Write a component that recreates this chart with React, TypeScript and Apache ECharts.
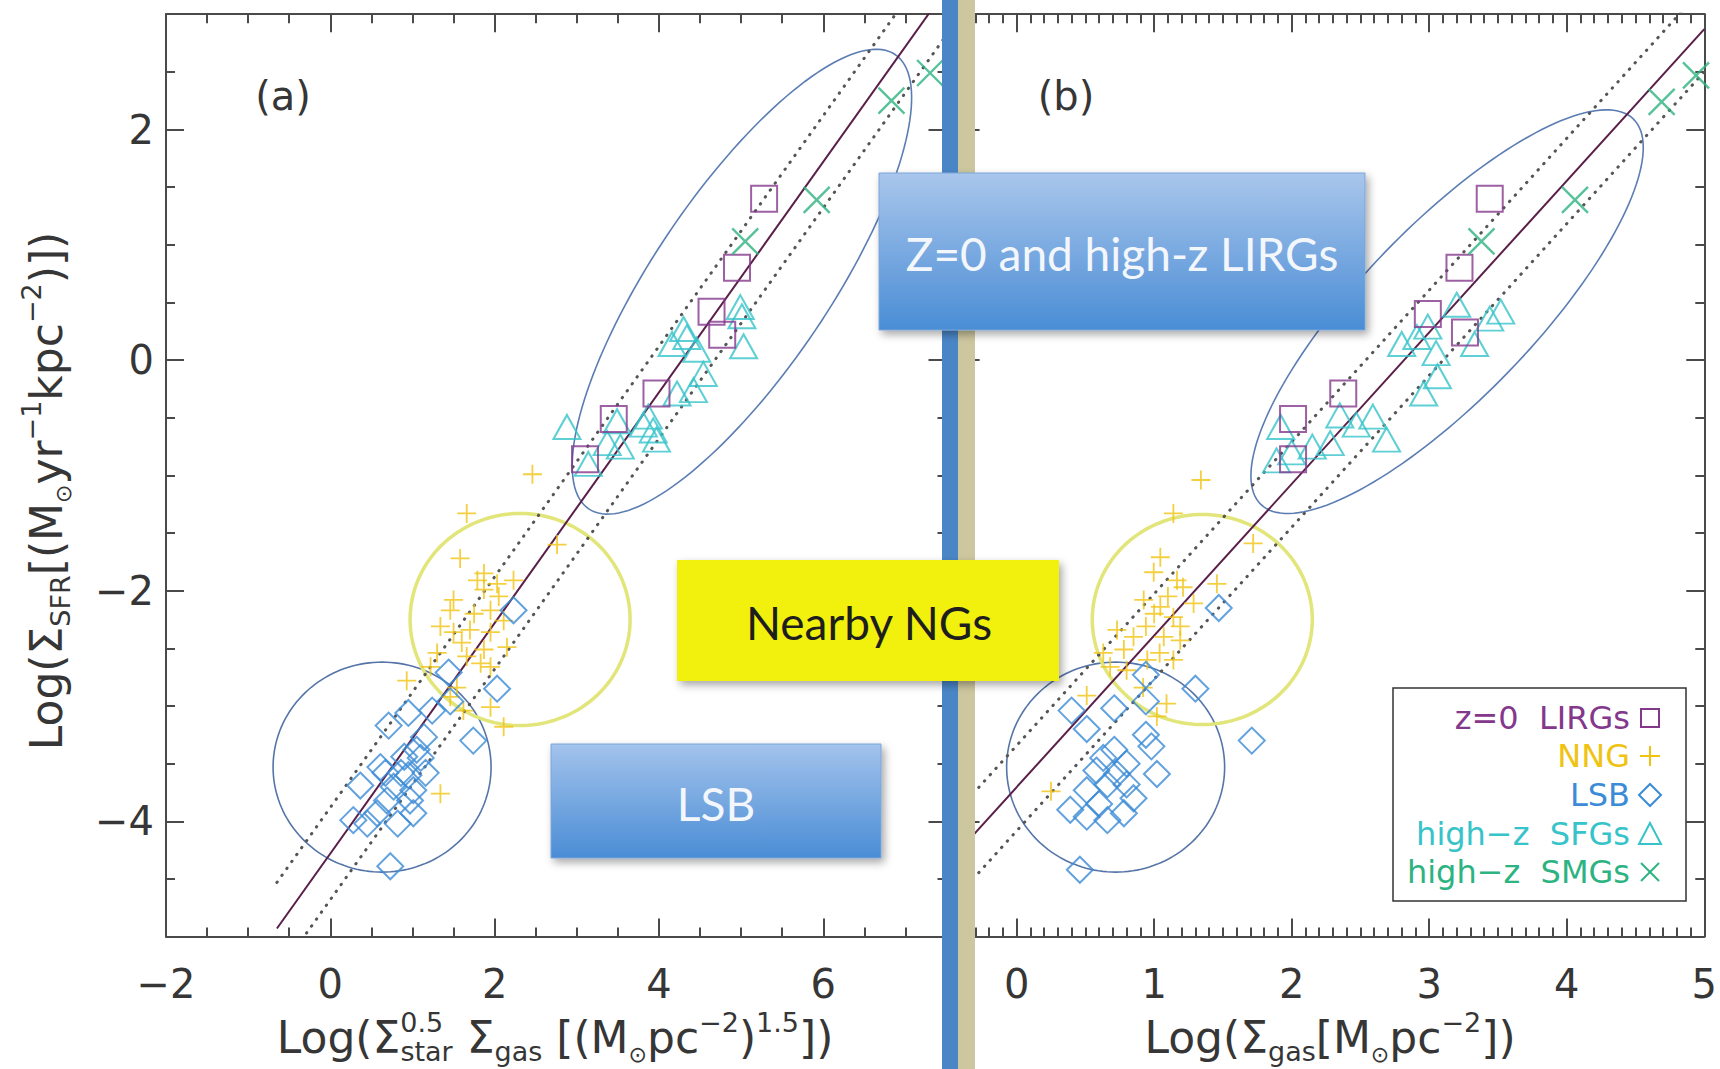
import React, { useEffect, useRef } from "react";
import * as echarts from "echarts";

const W = 1720;
const H = 1069;

// ---------------- DATA ----------------
// Panel (a): x = Log(Σstar^0.5 Σgas), Panel (b): x = Log(Σgas); y = Log(ΣSFR)
const lirgA = [[5.28, 1.4], [4.95, 0.8], [4.64, 0.42], [4.77, 0.22], [3.97, -0.29], [3.45, -0.51], [3.1, -0.86]];
const lirgB = [[3.44, 1.4], [3.22, 0.8], [2.99, 0.4], [3.26, 0.24], [2.375, -0.29], [2.01, -0.51], [2.01, -0.86]];

const smgA = [[5.05, 1.03], [5.92, 1.39], [6.83, 2.25], [7.3, 2.49]];
const smgB = [[3.38, 1.03], [4.06, 1.39], [4.69, 2.24], [4.94, 2.47]];

const sfgA = [
  [2.88, -0.58], [3.14, -0.9], [3.37, -0.72], [3.53, -0.75], [3.49, -0.53], [3.81, -0.56],
  [3.87, -0.49], [3.97, -0.69], [3.93, -0.61], [4.16, 0.14], [4.3, 0.27], [4.46, 0.09],
  [4.54, -0.12], [4.42, -0.26], [4.22, -0.29], [4.99, 0.46], [5.01, 0.38], [5.03, 0.12], [4.34, 0.2],
];
const sfgB = [
  [3.2, 0.48], [3.52, 0.42], [3.44, 0.36], [3.33, 0.14], [2.99, 0.29], [2.91, 0.2],
  [2.8, 0.14], [3.05, 0.06], [3.06, -0.14], [2.96, -0.29], [2.59, -0.49], [2.69, -0.69],
  [2.47, -0.56], [2.35, -0.48], [2.28, -0.72], [2.15, -0.75], [1.92, -0.58], [1.89, -0.87], [2.0, -0.8],
];

const nngA = [
  [2.46, -0.99], [1.66, -1.33], [1.58, -1.72], [2.76, -1.6], [1.87, -1.85], [1.79, -1.91],
  [1.5, -2.08], [1.87, -1.99], [2.03, -1.94], [2.23, -1.91], [1.95, -2.17], [2.11, -2.26],
  [1.46, -2.17], [1.34, -2.31], [1.5, -2.36], [1.7, -2.34], [1.95, -2.36], [2.15, -2.49],
  [1.87, -2.51], [1.66, -2.57], [1.3, -2.54], [1.83, -2.63], [1.95, -2.66], [1.22, -2.66],
  [0.93, -2.78], [1.54, -2.84], [1.46, -2.92], [1.62, -3.04], [1.95, -3.01], [2.11, -3.18],
  [1.34, -3.76], [1.75, -2.2], [1.6, -2.45], [2.05, -2.05],
];
const nngB = [
  [1.34, -1.04], [1.14, -1.33], [1.72, -1.59], [1.045, -1.71], [0.997, -1.84], [1.166, -1.91],
  [1.21, -1.97], [1.456, -1.94], [0.924, -2.08], [1.045, -2.14], [1.287, -2.11], [1.14, -2.23],
  [0.94, -2.31], [1.19, -2.31], [0.73, -2.34], [0.85, -2.4], [1.07, -2.4], [1.19, -2.43],
  [0.63, -2.54], [0.78, -2.51], [1.04, -2.54], [1.14, -2.6], [0.68, -2.66], [0.8, -2.69],
  [0.51, -2.91], [0.92, -2.84], [1.09, -2.98], [1.02, -3.09], [0.25, -3.74], [1.0, -2.2],
  [1.1, -2.05], [0.95, -2.6],
];

const lsbA = [
  [2.23, -2.17], [2.03, -2.85], [1.44, -2.71], [1.46, -2.96], [1.74, -3.3], [1.24, -3.04],
  [0.95, -3.06], [0.71, -3.17], [1.14, -3.27], [1.05, -3.38], [0.9, -3.44], [0.61, -3.53],
  [1.16, -3.58], [0.86, -3.58], [0.77, -3.7], [0.365, -3.69], [1.01, -3.73], [0.97, -3.82],
  [0.69, -3.82], [0.57, -3.93], [0.28, -3.99], [0.45, -4.02], [0.82, -4.02], [1.01, -3.93],
  [0.73, -4.39], [0.67, -3.58], [0.95, -3.6], [1.1, -3.45],
];
const lsbB = [
  [1.47, -2.15], [1.3, -2.85], [0.94, -2.73], [0.94, -2.96], [1.71, -3.3], [0.71, -3.02],
  [0.4, -3.04], [0.51, -3.2], [0.94, -3.25], [0.98, -3.35], [1.02, -3.59], [0.71, -3.38],
  [0.63, -3.45], [0.8, -3.5], [0.58, -3.56], [0.73, -3.59], [0.66, -3.68], [0.8, -3.68],
  [0.51, -3.73], [0.39, -3.9], [0.51, -3.96], [0.66, -3.99], [0.78, -3.93], [0.46, -4.42],
  [0.85, -3.8], [0.6, -3.85],
];

// fit lines (end points)
const fitA = [[-0.65, -4.93], [7.5, 3.22]];
const fitAUp = [[-0.65, -4.53], [7.5, 3.62]];
const fitALo = [[-0.65, -5.33], [7.5, 2.82]];
const fitB = [[-0.4, -4.23], [5, 2.87]];
const fitBUp = [[-0.4, -3.87], [5, 3.24]];
const fitBLo = [[-0.4, -4.61], [5, 2.5]];

// ticks
const xMajorA = [-2, 0, 2, 4, 6];
const xMinorA = [-1.5, -1, -0.5, 0.5, 1, 1.5, 2.5, 3, 3.5, 4.5, 5, 5.5, 6.5, 7];
const xMajorB = [0, 1, 2, 3, 4, 5];
const xMinorB: number[] = [];
for (let i = -3; i <= 49; i++) if (i % 10 !== 0) xMinorB.push(i / 10);
const yMajor = [-4, -2, 0, 2];
const yMinor = [-4.5, -3.5, -3, -2.5, -1.5, -1, -0.5, 0.5, 1, 1.5, 2.5];

// annotation ellipses: centre in data units, semi-axes in px, rotation deg
const ellA = [
  { cx: 0.63, cy: -3.53, rx: 109, ry: 105, angle: 0, color: "#5575a8", width: 1.6 },
  { cx: 2.31, cy: -2.25, rx: 110, ry: 106, angle: 0, color: "#e2e57a", width: 3.5 },
  { cx: 5.01, cy: 0.68, rx: 274, ry: 88, angle: 56, color: "#5b7db3", width: 1.6 },
];
const ellB = [
  { cx: 0.72, cy: -3.53, rx: 109, ry: 105, angle: 0, color: "#5575a8", width: 1.6 },
  { cx: 1.35, cy: -2.25, rx: 110, ry: 105, angle: 0, color: "#e2e57a", width: 3.5 },
  { cx: 3.13, cy: 0.42, rx: 268, ry: 86, angle: 46, color: "#5b7db3", width: 1.6 },
];

// ---------------- STYLE ----------------
const AX = "#4a4a4a";
const FONT = "DejaVu Sans";
const TXT = "#363636";
const C_LIRG = "#84388c";
const C_NNG = "#f0c312";
const C_LSB = "#3b8bd6";
const C_SFG = "#36c3c9";
const C_SMG = "#2db381";

const fmt = (v: number) => (v < 0 ? "\u2212" + Math.abs(v) : String(v));

function xAxes(grid: number, min: number, max: number, major: number[], minor: number[]) {
  const base = { type: "value", gridIndex: grid, min, max, splitLine: { show: false } };
  const tl = { color: AX, width: 2 };
  return [
    {
      ...base, position: "bottom",
      axisLine: { show: true, onZero: false, lineStyle: tl },
      axisTick: { show: true, inside: true, length: 18, customValues: major, lineStyle: tl },
      axisLabel: { show: true, customValues: major, formatter: fmt, margin: 27, fontSize: 40, fontFamily: FONT, color: TXT },
    },
    {
      ...base, position: "bottom",
      axisLine: { show: false, onZero: false },
      axisTick: { show: true, inside: true, length: 9, customValues: minor, lineStyle: tl },
      axisLabel: { show: false },
    },
    {
      ...base, position: "top",
      axisLine: { show: true, onZero: false, lineStyle: tl },
      axisTick: { show: true, inside: true, length: 18, customValues: major, lineStyle: tl },
      axisLabel: { show: false },
    },
    {
      ...base, position: "top",
      axisLine: { show: false, onZero: false },
      axisTick: { show: true, inside: true, length: 9, customValues: minor, lineStyle: tl },
      axisLabel: { show: false },
    },
  ];
}

function yAxes(grid: number, labels: boolean) {
  const base = { type: "value", gridIndex: grid, min: -5, max: 3, splitLine: { show: false } };
  const tl = { color: AX, width: 2 };
  return [
    {
      ...base, position: "left",
      axisLine: { show: true, onZero: false, lineStyle: tl },
      axisTick: { show: true, inside: true, length: 18, customValues: yMajor, lineStyle: tl },
      axisLabel: labels
        ? { show: true, customValues: yMajor, formatter: fmt, margin: 12, fontSize: 40, fontFamily: FONT, color: TXT }
        : { show: false },
    },
    {
      ...base, position: "left",
      axisLine: { show: false, onZero: false },
      axisTick: { show: true, inside: true, length: 9, customValues: yMinor, lineStyle: tl },
      axisLabel: { show: false },
    },
    {
      ...base, position: "right",
      axisLine: { show: true, onZero: false, lineStyle: tl },
      axisTick: { show: true, inside: true, length: 18, customValues: yMajor, lineStyle: tl },
      axisLabel: { show: false },
    },
    {
      ...base, position: "right",
      axisLine: { show: false, onZero: false },
      axisTick: { show: true, inside: true, length: 9, customValues: yMinor, lineStyle: tl },
      axisLabel: { show: false },
    },
  ];
}

const PLUS = "path://M0,10L20,10M10,0L10,20";
const CROSS = "path://M0,0L20,20M20,0L0,20";

function scatter(name: string, data: number[][], ai: number, symbol: string, size: any, color: string, bw = 2) {
  return {
    type: "scatter", name, data, xAxisIndex: ai, yAxisIndex: ai, symbol, symbolSize: size,
    itemStyle: { color: "rgba(0,0,0,0)", borderColor: color, borderWidth: bw },
    silent: true, z: 6, clip: false,
  };
}

function line(data: number[][], ai: number, dotted: boolean) {
  return {
    type: "line", data, xAxisIndex: ai, yAxisIndex: ai, symbol: "none", silent: true, z: 4, clip: true,
    lineStyle: dotted
      ? { color: "#555", width: 3, type: [0.5, 8], cap: "round" }
      : { color: "#5a1f48", width: 2 },
  };
}

function ellipses(ells: any[], ai: number) {
  return {
    type: "custom", xAxisIndex: ai, yAxisIndex: ai, silent: true, clip: false, z: 3,
    data: ells.map((e) => [e.cx, e.cy]),
    encode: { x: 0, y: 1 },
    renderItem: (params: any, api: any) => {
      const e = ells[params.dataIndex];
      const c = api.coord([api.value(0), api.value(1)]);
      const t = (e.angle * Math.PI) / 180;
      const pts: number[][] = [];
      const N = 160;
      for (let i = 0; i < N; i++) {
        const a = (i / N) * 2 * Math.PI;
        const ex = e.rx * Math.cos(a);
        const ey = e.ry * Math.sin(a);
        pts.push([c[0] + ex * Math.cos(t) - ey * Math.sin(t), c[1] - (ex * Math.sin(t) + ey * Math.cos(t))]);
      }
      return { type: "polygon", shape: { points: pts }, style: { fill: "none", stroke: e.color, lineWidth: e.width } };
    },
  };
}

function panelSeries(ai: number, d: any) {
  return [
    ellipses(d.ell, ai),
    line(d.fit, ai, false),
    line(d.up, ai, true),
    line(d.lo, ai, true),
    scatter("NNG", d.nng, ai, PLUS, 19, C_NNG, 1.8),
    scatter("LSB", d.lsb, ai, "diamond", 26, C_LSB, 2),
    scatter("high-z SFGs", d.sfg, ai, "triangle", [27, 24], C_SFG, 2),
    scatter("z=0 LIRGs", d.lirg, ai, "rect", 26, C_LIRG, 2),
    scatter("high-z SMGs", d.smg, ai, CROSS, 26, C_SMG, 2.4),
  ];
}

const blueGrad = (top: string, bot: string) => ({
  type: "linear", x: 0, y: 0, x2: 0, y2: 1,
  colorStops: [{ offset: 0, color: top }, { offset: 1, color: bot }],
});

const shadow = { shadowBlur: 8, shadowOffsetX: 3, shadowOffsetY: 4, shadowColor: "rgba(0,0,0,0.35)" };

function txt(x: number, y: number, text: string, size: number, fill: string, family = FONT, align = "center") {
  return {
    type: "text", x, y, z: 200, silent: true,
    style: {
      text, fontSize: size, fontFamily: family, fill,
      align, textAlign: align, verticalAlign: "middle", textVerticalAlign: "middle",
    },
  };
}

const MS = 44; // main title font
const SS = 27; // sub/sup font
const rich = {
  m: { fontSize: MS, fontFamily: FONT, color: TXT, lineHeight: 56 },
  sub: { fontSize: SS, fontFamily: FONT, color: TXT, lineHeight: SS, verticalAlign: "bottom" },
  sup: { fontSize: SS, fontFamily: FONT, color: TXT, lineHeight: SS, verticalAlign: "top" },
  dot: { fontSize: 22, fontFamily: FONT, color: TXT, lineHeight: 24, verticalAlign: "bottom" },
  s05: { fontSize: SS, fontFamily: FONT, color: TXT, lineHeight: SS, verticalAlign: "top", width: 0.1 },
};

function measure(s: string, size: number) {
  const c = document.createElement("canvas").getContext("2d")!;
  c.font = `${size}px "${FONT}"`;
  return c.measureText(s).width;
}

function richText(x: number, y: number, text: string, rotation = 0, align = "center") {
  return {
    type: "text", x, y, rotation, z: 200, silent: true,
    style: {
      text, rich, fill: TXT, fontSize: MS, fontFamily: FONT,
      align, textAlign: align, verticalAlign: "middle", textVerticalAlign: "middle",
    },
  };
}

const legendRows = [
  { label: "z=0  LIRGs", color: C_LIRG, y: 718 },
  { label: "NNG", color: C_NNG, y: 756 },
  { label: "LSB", color: C_LSB, y: 795 },
  { label: "high\u2212z  SFGs", color: C_SFG, y: 834 },
  { label: "high\u2212z  SMGs", color: C_SMG, y: 872 },
];

function buildOption() {
  const LX = 1650;
  // width of the panel (a) x title to centre it while laying it out left-aligned
  const wA =
    measure("Log(Σ", MS) + measure("star", SS) + measure(" Σ", MS) + measure("gas", SS) +
    measure(" [(M", MS) + measure("⊙", 22) + measure("pc", MS) + measure("\u22122", SS) +
    measure(")", MS) + measure("1.5", SS) + measure("])", MS);

  const graphic: any[] = [
    // separator bars
    { type: "rect", z: 150, silent: true, shape: { x: 942, y: 0, width: 16, height: H }, style: { fill: "#4a86c6" } },
    { type: "rect", z: 150, silent: true, shape: { x: 958, y: 0, width: 17, height: H }, style: { fill: "#cdc79f" } },
    // Z=0 box
    {
      type: "rect", z: 160, silent: true, shape: { x: 879, y: 173, width: 486, height: 157 },
      style: { fill: blueGrad("#a9c6ec", "#4a8dd5"), stroke: "#7ba5d8", lineWidth: 1, ...shadow },
    },
    txt(1122, 253, "Z=0 and high-z LIRGs", 46, "#f3f7fc", "Lato"),
    // Nearby NGs box
    {
      type: "rect", z: 160, silent: true, shape: { x: 677, y: 560, width: 382, height: 121 },
      style: { fill: "#f1f10c", ...shadow },
    },
    txt(869, 622, "Nearby NGs", 46, "#1e1e1e", "Lato"),
    // LSB box
    {
      type: "rect", z: 160, silent: true, shape: { x: 551, y: 744, width: 330, height: 114 },
      style: { fill: blueGrad("#a3c3ec", "#4a8dd5"), stroke: "#7ba5d8", lineWidth: 1, ...shadow },
    },
    txt(716, 803, "LSB", 46, "#f3f7fc", "Lato"),
    // panel labels
    txt(283, 96, "(a)", 40, TXT),
    txt(1066, 96, "(b)", 40, TXT),
    // axis titles
    richText(46, 491, "{m|Log(Σ}{sub|SFR}{m|[(M}{dot|⊙}{m|yr}{sup|\u22121}{m|kpc}{sup|\u22122}{m|)])}", Math.PI / 2),
    richText(
      555 - wA / 2, 1037,
      "{m|Log(Σ}{s05|0.5}{sub|star}{m| Σ}{sub|gas}{m| [(M}{dot|⊙}{m|pc}{sup|\u22122}{m|)}{sup|1.5}{m|])}",
      0, "left",
    ),
    richText(1330, 1037, "{m|Log(Σ}{sub|gas}{m|[M}{dot|⊙}{m|pc}{sup|\u22122}{m|])}"),
    // legend box
    {
      type: "rect", z: 170, silent: true, shape: { x: 1393, y: 688, width: 293, height: 213 },
      style: { fill: "#ffffff", stroke: "#333", lineWidth: 1.5 },
    },
  ];
  legendRows.forEach((r) => {
    graphic.push({ ...txt(1630, r.y, r.label, 32, r.color, FONT, "right"), z: 180 });
  });
  const ls = (c: string) => ({ stroke: c, lineWidth: 2, fill: "none" });
  graphic.push(
    { type: "rect", z: 180, silent: true, shape: { x: LX - 9, y: 709, width: 18, height: 18 }, style: ls(C_LIRG) },
    { type: "line", z: 180, silent: true, shape: { x1: LX - 10, y1: 756, x2: LX + 10, y2: 756 }, style: ls(C_NNG) },
    { type: "line", z: 180, silent: true, shape: { x1: LX, y1: 746, x2: LX, y2: 766 }, style: ls(C_NNG) },
    { type: "polygon", z: 180, silent: true, shape: { points: [[LX, 784], [LX + 11, 795], [LX, 806], [LX - 11, 795]] }, style: ls(C_LSB) },
    { type: "polygon", z: 180, silent: true, shape: { points: [[LX, 823], [LX + 11, 844], [LX - 11, 844]] }, style: ls(C_SFG) },
    { type: "line", z: 180, silent: true, shape: { x1: LX - 9, y1: 863, x2: LX + 9, y2: 881 }, style: ls(C_SMG) },
    { type: "line", z: 180, silent: true, shape: { x1: LX + 9, y1: 863, x2: LX - 9, y2: 881 }, style: ls(C_SMG) },
  );

  return {
    animation: false,
    backgroundColor: "#ffffff",
    grid: [
      { left: 166, top: 14.2, width: 780.5, height: 922.4, containLabel: false },
      { left: 961.6, top: 14.2, width: 747.9, height: 922.4, containLabel: false },
    ],
    xAxis: [...xAxes(0, -2, 7.5, xMajorA, xMinorA), ...xAxes(1, -0.4, 5, xMajorB, xMinorB)],
    yAxis: [...yAxes(0, true), ...yAxes(1, false)],
    series: [
      ...panelSeries(0, { ell: ellA, fit: fitA, up: fitAUp, lo: fitALo, nng: nngA, lsb: lsbA, sfg: sfgA, lirg: lirgA, smg: smgA }),
      ...panelSeries(4, { ell: ellB, fit: fitB, up: fitBUp, lo: fitBLo, nng: nngB, lsb: lsbB, sfg: sfgB, lirg: lirgB, smg: smgB }),
    ],
    graphic,
  };
}

export default function App() {
  const ref = useRef<HTMLDivElement>(null);
  useEffect(() => {
    const chart = echarts.init(ref.current!, null, { renderer: "svg", width: W, height: H });
    chart.setOption(buildOption() as any);
    return () => chart.dispose();
  }, []);
  return (
    <div
      ref={ref}
      style={{ position: "absolute", left: 0, top: 0, width: W, height: H, background: "#fff" }}
    />
  );
}
